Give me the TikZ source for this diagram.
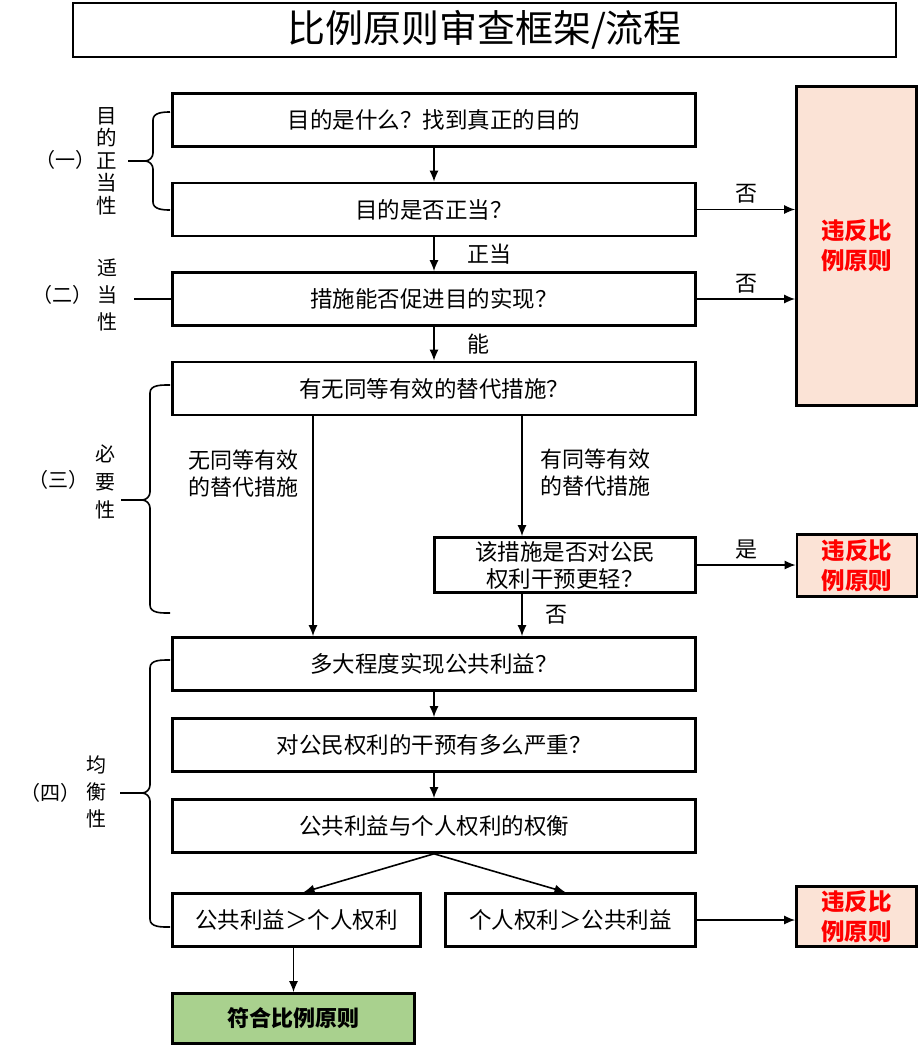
\documentclass[tikz,border=0pt]{standalone}
\usepackage{fontspec}
\newfontfamily\cjk{Noto Sans CJK SC}
\usepackage{tikz}
\usetikzlibrary{shapes.geometric, arrows.meta, positioning}
\definecolor{peach}{HTML}{FBE3D6}
\definecolor{okgreen}{HTML}{A9D18E}
\tikzstyle{process} = [
  rectangle,
  minimum width=523pt,
  minimum height=53pt,
  text centered,
  draw=black,
  line width=2.6pt,
  font=\cjk\fontsize{22.5}{27}\selectfont
]
\tikzstyle{verdict} = [
  rectangle,
  minimum width=120pt,
  align=center,
  draw=black,
  line width=2.6pt,
  fill=peach,
  text=red,
  font=\cjk\bfseries\fontsize{23.5}{30}\selectfont
]
\tikzstyle{note} = [font=\cjk\fontsize{22}{27}\selectfont, align=center]
\tikzstyle{group} = [font=\cjk\fontsize{20}{27}\selectfont, align=center]
\tikzstyle{bracket} = [line width=1.6pt]
\tikzstyle{arrow} = [line width=1.6pt, -{Latex[length=11pt,width=9pt]}]

\begin{document}
\begin{tikzpicture}[x=1pt, y=-1pt, node distance=89.5pt]
    \useasboundingbox (0,0) rectangle (922,1047);

    \node (title) [draw=black, line width=2pt, minimum width=823pt, minimum height=54pt, font=\cjk\fontsize{38}{42}\selectfont] at (484.5,30) {比例原则审查框架/流程};

    \node (purpose-what) [process] at (434,120) {目的是什么？找到真正的目的};
    \node (purpose-legit) [process, below of=purpose-what] {目的是否正当？};
    \node (suitable) [process, below of=purpose-legit] {措施能否促进目的实现？};
    \node (alternative) [process, below of=suitable] {有无同等有效的替代措施？};
    \node (milder) [process, minimum width=261pt, minimum height=55pt, align=center] at (565,565) {该措施是否对公民\\权利干预更轻？};
    \node (public-gain) [process] at (434,664) {多大程度实现公共利益？};
    \node (rights-burden) [process, below of=public-gain, yshift=8.5pt] {对公民权利的干预有多么严重？};
    \node (weigh) [process, below of=rights-burden, yshift=8.5pt] {公共利益与个人权利的权衡};
    \node (public-wins) [process, minimum width=248pt] at (296.5,920) {公共利益＞个人权利};
    \node (rights-win) [process, minimum width=250pt] at (570.5,920) {个人权利＞公共利益};
    \node (complies) [process, minimum width=242pt, minimum height=50pt, fill=okgreen, font=\cjk\bfseries\fontsize{22}{26}\selectfont] at (293.5,1018.5) {符合比例原则};

    \node (violate-1) [verdict, minimum height=319pt] at (856.5,246) {违反比\\例原则};
    \node (violate-2) [verdict, minimum height=62pt] at (857,565.5) {违反比\\例原则};
    \node (violate-3) [verdict, minimum height=60pt] at (856.5,916.5) {违反比\\例原则};

    \draw [arrow] (purpose-what) -- (purpose-legit);
    \draw [arrow] (purpose-legit) -- node[note, anchor=west, xshift=29pt] {正当} (suitable);
    \draw [arrow] (suitable) -- node[note, anchor=west, xshift=29pt] {能} (alternative);
    \draw [arrow] (purpose-legit.east) -- node[note, above, yshift=2pt] {否} (purpose-legit.east -| violate-1.west);
    \draw [arrow] (suitable.east) -- node[note, above, yshift=2pt] {否} (suitable.east -| violate-1.west);
    \draw [arrow] ([xshift=-121pt]alternative.south) -- node[note, pos=0.26, anchor=east, xshift=-10pt] {无同等有效\\的替代措施} ([xshift=-121pt]alternative.south |- public-gain.north);
    \draw [arrow] ([xshift=88pt]alternative.south) -- node[note, pos=0.47, anchor=west, xshift=14pt] {有同等有效\\的替代措施} ([xshift=88pt]alternative.south |- milder.north);
    \draw [arrow] ([xshift=88pt]alternative.south |- milder.south) -- node[note, anchor=west, xshift=19pt] {否} ([xshift=88pt]alternative.south |- public-gain.north);
    \draw [arrow] (milder.east) -- node[note, above, yshift=2pt] {是} (milder.east -| violate-2.west);
    \draw [arrow] (public-gain) -- (rights-burden);
    \draw [arrow] (rights-burden) -- (weigh);
    \draw [arrow] (weigh.south) -- ([xshift=7pt]public-wins.north);
    \draw [arrow] (weigh.south) -- ([xshift=-5pt]rights-win.north);
    \draw [arrow] (rights-win.east) -- (rights-win.east -| violate-3.west);
    \draw [arrow] (complies.north |- public-wins.south) -- (complies.north);

    % left-hand brackets
    \draw [bracket] (170,112) to[out=180,in=90] (153,120) -- (153,153) to[out=-90,in=0] (145,161) -- (128,161);
    \draw [bracket] (145,161) to[out=0,in=90] (153,169) -- (153,202) to[out=-90,in=180] (170,210);
    \draw [bracket] (suitable.west) -- ++(-37,0);
    \draw [bracket] (170,385) to[out=180,in=90] (150,393) -- (150,492) to[out=-90,in=0] (142,500) -- (121,500);
    \draw [bracket] (142,500) to[out=0,in=90] (150,508) -- (150,605) to[out=-90,in=180] (170,613);
    \draw [bracket] (170,660) to[out=180,in=90] (150,668) -- (150,785) to[out=-90,in=0] (142,793) -- (120,793);
    \draw [bracket] (142,793) to[out=0,in=90] (150,801) -- (150,919) to[out=-90,in=180] (170,927);

    \node (no-1) [group] at (65,160) {（一）};
    \node (purpose-name) [group, font=\cjk\fontsize{20.5}{22.5}\selectfont] at (107,161) {目\\的\\正\\当\\性};
    \node (no-2) [group] at (62,295) {（二）};
    \node (suitable-name) [group] at (107,295) {适\\当\\性};
    \node (no-3) [group] at (58,480) {（三）};
    \node (necessary-name) [group, font=\cjk\fontsize{20}{28}\selectfont] at (105,482) {必\\要\\性};
    \node (no-4) [group] at (50,793) {（四）};
    \node (balance-name) [group] at (96,792) {均\\衡\\性};
  \end{tikzpicture}
\end{document}
